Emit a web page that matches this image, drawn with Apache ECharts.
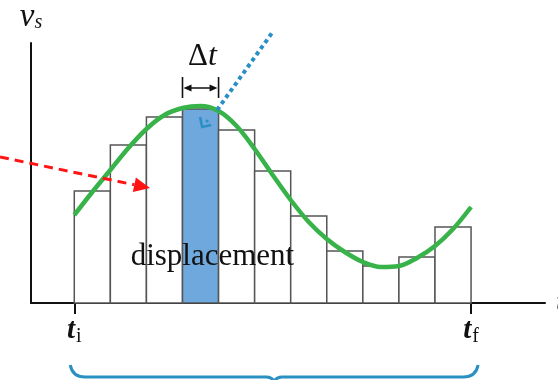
<!DOCTYPE html>
<html>
<head>
<meta charset="utf-8">
<script src="https://cdn.jsdelivr.net/npm/echarts@6/dist/echarts.min.js"></script>
<style>
  html, body { margin: 0; padding: 0; background: #fff; }
  #chart { width: 558px; height: 380px; }
</style>
</head>
<body>
<div id="chart"></div>
<script>
// Velocity–time graph: the area under v_s(t) is built up from rectangles of width Δt.
const stepStarts = [0, 1, 2, 3, 4, 5, 6, 7, 8, 9, 10];
const stepHeights = [112, 158, 186, 194, 173, 132, 87, 52, 37, 46, 76];
const highlightIndex = 3;

const curveT = [0, 0.5, 1, 1.5, 2, 2.5, 3, 3.5, 4, 4.5, 5, 5.5, 6, 6.5, 7, 7.5, 8, 8.5, 9, 9.5, 10, 10.5, 11];
const curveV = [88, 111, 133, 155, 174, 188, 195, 197, 192, 177, 154, 128, 103, 81, 64, 51, 41, 36, 37, 45, 57, 74, 96];

const tangentT = [3.96, 5.48];
const tangentV = [193, 270];

const pointerT = [-2.06, 2.10];
const pointerV = [146, 115];

const tickValues = [0, 11];
const tickSubs = ['i', 'f'];

const SERIF = '"Liberation Serif", "DejaVu Serif", serif';
const GREEN = '#37b34a';
const BLUE_BAR = '#6fa8dc';
const BLUE_LINE = '#2a8fc6';
const RED = '#ff1414';

const chart = echarts.init(document.getElementById('chart'), null, { renderer: 'canvas' });

function annotations(params, api) {
  const kids = [];

  // red dashed pointer with a filled arrowhead
  const a = api.coord([pointerT[0], pointerV[0]]);
  const b = api.coord([pointerT[1], pointerV[1]]);
  const dx = b[0] - a[0], dy = b[1] - a[1];
  const len = Math.hypot(dx, dy), ux = dx / len, uy = dy / len;
  const headL = 16, headW = 7.5;
  const base = [b[0] - ux * headL, b[1] - uy * headL];
  kids.push({
    type: 'line',
    shape: { x1: a[0], y1: a[1], x2: base[0], y2: base[1] },
    style: { stroke: RED, lineWidth: 3, lineDash: [9, 6] }
  });
  kids.push({
    type: 'polygon',
    shape: { points: [b, [base[0] - uy * headW, base[1] + ux * headW], [base[0] + uy * headW, base[1] - ux * headW]] },
    style: { fill: RED }
  });

  // Δt width marker above the highlighted strip
  const l = api.coord([stepStarts[highlightIndex], 215]);
  const r = api.coord([stepStarts[highlightIndex] + 1, 215]);
  const y = l[1];
  kids.push({ type: 'line', shape: { x1: l[0], y1: y - 11, x2: l[0], y2: y + 10 }, style: { stroke: '#111', lineWidth: 1.6 } });
  kids.push({ type: 'line', shape: { x1: r[0], y1: y - 11, x2: r[0], y2: y + 10 }, style: { stroke: '#111', lineWidth: 1.6 } });
  kids.push({ type: 'line', shape: { x1: l[0] + 4, y1: y, x2: r[0] - 4, y2: y }, style: { stroke: '#111', lineWidth: 1.5 } });
  kids.push({ type: 'polygon', shape: { points: [[l[0] + 1, y], [l[0] + 9, y - 3.5], [l[0] + 9, y + 3.5]] }, style: { fill: '#111' } });
  kids.push({ type: 'polygon', shape: { points: [[r[0] - 1, y], [r[0] - 9, y - 3.5], [r[0] - 9, y + 3.5]] }, style: { fill: '#111' } });
  kids.push({
    type: 'text',
    style: {
      text: '{d|Δ}{t|t}', x: (l[0] + r[0]) / 2 + 2, y: y - 31, align: 'center', verticalAlign: 'middle',
      rich: {
        d: { fontFamily: SERIF, fontSize: 31, fill: '#111' },
        t: { fontFamily: SERIF, fontSize: 32, fontStyle: 'italic', fill: '#111' }
      }
    }
  });

  // small right-angle mark where the tangent touches the curve
  const tp = api.coord([tangentT[0], tangentV[0]]);
  kids.push({
    type: 'polyline',
    shape: { points: [[tp[0] - 17, tp[1] + 7], [tp[0] - 15, tp[1] + 17], [tp[0] - 6, tp[1] + 15]] },
    style: { stroke: BLUE_LINE, lineWidth: 2.6, fill: null }
  });
  kids.push({ type: 'circle', shape: { cx: tp[0] - 10, cy: tp[1] + 11, r: 1.6 }, style: { fill: BLUE_LINE } });

  // area label
  const c = api.coord([3.83, 46]);
  kids.push({
    type: 'text',
    style: { text: 'displacement', x: c[0], y: c[1], align: 'center', verticalAlign: 'middle',
      fontFamily: SERIF, fontSize: 31, fill: '#111' }
  });

  // brace spanning t_i … t_f below the axis
  const bl = api.coord([tickValues[0], 0]);
  const br = api.coord([tickValues[1], 0]);
  const x0 = bl[0] - 4, x1 = br[0] + 7, yt = bl[1] + 62, ym = bl[1] + 74, xc = (x0 + x1) / 2;
  const path = `M${x0},${yt} Q${x0 + 2},${ym} ${x0 + 15},${ym} L${xc - 8},${ym} Q${xc - 1},${ym} ${xc},${ym + 6} Q${xc + 1},${ym} ${xc + 8},${ym} L${x1 - 15},${ym} Q${x1 - 2},${ym} ${x1},${yt}`;
  kids.push({ type: 'path', shape: { pathData: path }, style: { stroke: '#2a8fc1', lineWidth: 3, fill: null } });

  return { type: 'group', children: kids };
}

const option = {
  backgroundColor: '#fff',
  animation: false,
  grid: { left: 31, right: 13, top: 43, bottom: 77, containLabel: false, outerBoundsMode: 'none' },
  xAxis: {
    type: 'value', min: -1.2, max: 13.05,
    axisLine: { show: true, onZero: false, lineStyle: { color: '#111', width: 2 } },
    axisTick: { show: true, customValues: tickValues, length: 11, lineStyle: { color: '#111', width: 2 } },
    axisLabel: {
      show: true, customValues: tickValues, margin: 12,
      formatter: v => '{t|t}{s|' + tickSubs[tickValues.indexOf(v)] + '}',
      rich: {
        t: { fontFamily: SERIF, fontSize: 29, fontStyle: 'italic', fontWeight: 'bold', color: '#111' },
        s: { fontFamily: SERIF, fontSize: 20, color: '#111', padding: [12, 0, 0, 1] }
      }
    },
    splitLine: { show: false },
    name: 't', nameLocation: 'end', nameGap: 11,
    nameTextStyle: { fontFamily: SERIF, fontSize: 28, fontStyle: 'italic', color: '#111' }
  },
  yAxis: {
    type: 'value', min: 0, max: 260,
    axisLine: { show: true, onZero: false, lineStyle: { color: '#111', width: 2 } },
    axisTick: { show: false }, axisLabel: { show: false }, splitLine: { show: false },
    name: '{v|v}{s|s}', nameLocation: 'end', nameGap: 9,
    nameTextStyle: {
      rich: {
        v: { fontFamily: SERIF, fontSize: 33, fontStyle: 'italic', color: '#111' },
        s: { fontFamily: SERIF, fontSize: 20, fontStyle: 'italic', color: '#111', padding: [10, 0, 0, 0] }
      }
    }
  },
  series: [
    {
      name: 'strips', type: 'custom', z: 2,
      data: stepStarts.map((t, i) => [t, stepHeights[i]]),
      encode: { x: 0, y: 1 },
      renderItem: (params, api) => {
        const t = api.value(0), h = api.value(1);
        const p0 = api.coord([t, 0]);
        const p1 = api.coord([t + 1, h]);
        return {
          type: 'rect',
          shape: { x: p0[0], y: p1[1], width: p1[0] - p0[0], height: p0[1] - p1[1] },
          style: { fill: params.dataIndex === highlightIndex ? BLUE_BAR : '#fff', stroke: '#555', lineWidth: 1.5 }
        };
      }
    },
    {
      name: 'velocity', type: 'line', z: 3, smooth: 0.35, symbol: 'none',
      data: curveT.map((t, i) => [t, curveV[i]]),
      lineStyle: { color: GREEN, width: 4.5 }
    },
    {
      name: 'tangent', type: 'line', z: 4, symbol: 'none', clip: false,
      data: tangentT.map((t, i) => [t, tangentV[i]]),
      lineStyle: { color: BLUE_LINE, width: 4, type: [4, 3.5], cap: 'butt' }
    },
    {
      name: 'notes', type: 'custom', z: 5, clip: false,
      data: [[0, 0]], encode: { x: 0, y: 1 },
      renderItem: annotations
    }
  ]
};

chart.setOption(option);
</script>
</body>
</html>
